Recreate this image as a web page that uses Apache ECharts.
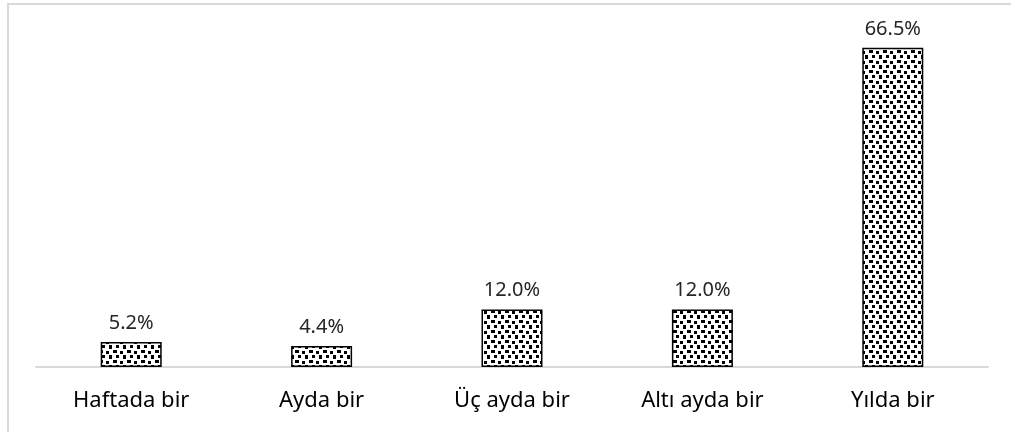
<!DOCTYPE html>
<html lang="tr">
<head>
  <meta charset="UTF-8" />
  <title>chart</title>
  <style>
    * { margin: 0; padding: 0; }
    html, body { width: 100%; background: #fff; }
    #chart { width: 1011px; height: 432px; }
  </style>
</head>
<body>
  <div id="chart"></div>
  <script src="https://cdn.jsdelivr.net/npm/echarts@6/dist/echarts.min.js"></script>
  <script>
    var categories = ['Haftada bir', 'Ayda bir', 'Üç ayda bir', 'Altı ayda bir', 'Yılda bir'];
    var values = [5.2, 4.4, 12.0, 12.0, 66.5];

    // noktalı desen (dotted fill)
    function makePattern() {
      var c = document.createElement('canvas');
      c.width = 14;
      c.height = 10;
      var ctx = c.getContext('2d');
      ctx.fillStyle = '#fff';
      ctx.fillRect(0, 0, 14, 10);
      ctx.fillStyle = '#000';
      ctx.fillRect(1, 0, 4, 3);
      ctx.fillRect(8, 1, 3, 3);
      ctx.fillRect(4, 5, 3, 3);
      ctx.fillRect(11, 5, 3, 4);
      return c;
    }

    var myChart = echarts.init(document.getElementById('chart'));
    var options = {
      animation: false,
      textStyle: { fontFamily: 'Noto Sans' },
      grid: { left: 36, right: 23, top: 31, bottom: 65 },
      graphic: [{
        type: 'rect',
        shape: { x: 8, y: 4, width: 1100, height: 600 },
        style: { fill: 'none', stroke: '#d9d9d9', lineWidth: 2 },
        silent: true
      }],
      xAxis: {
        type: 'category',
        data: categories,
        axisTick: { show: false },
        axisLine: { lineStyle: { color: '#d9d9d9', width: 2 } },
        axisLabel: { color: '#000', fontSize: 22, margin: 23 }
      },
      yAxis: {
        type: 'value',
        min: 0,
        max: 70,
        show: false,
        splitLine: { show: false }
      },
      series: [{
        type: 'bar',
        data: values,
        barWidth: 61,
        itemStyle: {
          color: { image: makePattern(), repeat: 'repeat' },
          borderColor: '#000',
          borderWidth: 1.5
        },
        label: {
          show: true,
          position: 'top',
          distance: 9,
          color: '#262626',
          fontSize: 20,
          formatter: function (p) { return p.value.toFixed(1) + '%'; }
        }
      }]
    };
    myChart.setOption(options);
  </script>
</body>
</html>
